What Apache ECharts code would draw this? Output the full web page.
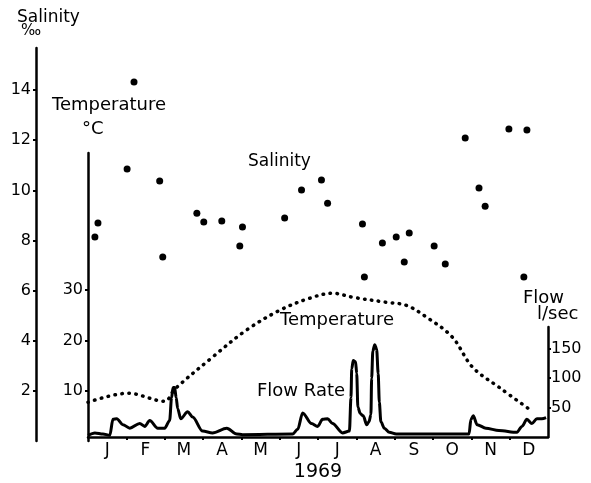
<!DOCTYPE html>
<html>
<head>
<meta charset="utf-8">
<script src="https://cdn.jsdelivr.net/npm/echarts@6/dist/echarts.min.js"></script>
<style>
  html, body { margin: 0; padding: 0; background: #fff; }
  #chart { width: 591px; height: 483px; }
</style>
</head>
<body>
<div id="chart"></div>
<script>
// month letters along the bottom axis (x runs 0..12 months)
const months = ["J", "F", "M", "A", "M", "J", "J", "A", "S", "O", "N", "D"];
const monthTicks = [1, 2, 3, 4, 5, 6, 7, 8, 9, 10, 11];
const monthLabelPos = [0.5, 1.5, 2.5, 3.5, 4.5, 5.5, 6.5, 7.5, 8.5, 9.5, 10.5, 11.5];

const salTicks = [2, 4, 6, 8, 10, 12, 14];
const tempTicks = [10, 20, 30];
const flowTicks = [50, 100, 150];

// salinity samples (per mille)
const salMonth = [0.18, 0.26, 1.02, 1.2, 1.87, 1.95, 2.84, 3.02, 3.49, 3.96, 4.03, 5.13, 5.57, 6.09, 6.25,
  7.16, 7.21, 7.68, 8.04, 8.25, 8.38, 9.03, 9.32, 9.84, 10.2, 10.36, 10.98, 11.37, 11.45];
const salValue = [8.14, 8.7, 10.85, 14.32, 10.37, 7.34, 9.09, 8.74, 8.78, 7.78, 8.54, 8.9, 10.01, 10.41, 9.49,
  8.66, 6.54, 7.9, 8.14, 7.14, 8.3, 7.78, 7.06, 12.09, 10.09, 9.37, 12.45, 6.54, 12.41];

// water temperature (deg C)
const tempMonth = [0, 1.04, 2.0, 2.26, 3.25, 4.14, 5.0, 5.78, 6.38, 6.9, 7.78, 8.3, 8.82, 9.5, 10.03, 10.72, 11.5];
const tempValue = [7.7, 9.5, 7.9, 10.3, 16.7, 22.1, 26.0, 28.4, 29.4, 28.6, 27.6, 27.0, 24.7, 20.7, 14.7, 10.7, 6.4];

// flow rate (l/sec)
const flowMonth = [0, 0.18, 0.39, 0.57, 0.65, 0.75, 0.91, 1.09, 1.35, 1.48, 1.61, 1.82, 2.0,
  2.13, 2.18, 2.22, 2.26, 2.3, 2.34, 2.42, 2.6, 2.73, 2.99, 3.25, 3.62, 3.88, 4.03,
  5.34, 5.47, 5.6, 5.83, 5.99, 6.12, 6.25, 6.38, 6.64, 6.82,
  6.86, 6.88, 6.92, 6.98, 7.01, 7.04, 7.1, 7.18, 7.27, 7.33,
  7.38, 7.4, 7.43, 7.48, 7.53, 7.57, 7.6, 7.64, 7.73, 7.86, 8.04,
  9.94, 9.99, 10.05, 10.15, 10.38, 10.72, 11.19, 11.32, 11.45, 11.58, 11.71, 11.84, 11.95];
const flowRate = [3, 7, 5, 3, 30, 31, 21, 15, 23, 18, 28, 15, 15,
  28, 67, 84, 84, 67, 48, 31, 43, 34, 10, 7, 15, 5, 4,
  5, 13, 41, 23, 18, 30, 31, 23, 7, 10,
  67, 116, 130, 128, 108, 51, 40, 36, 21, 26,
  38, 100, 146, 157, 149, 108, 59, 26, 15, 8, 5,
  5, 30, 36, 21, 15, 11, 8, 18, 30, 23, 31, 31, 33];

const FONT = "DejaVu Sans";
const INK = "#000";

function pairs(xs, ys) {
  return xs.map((x, i) => [x, ys[i]]);
}

const chart = echarts.init(document.getElementById("chart"), null, { renderer: "canvas" });

const gridBase = { left: 88, right: 43, bottom: 42 };

function hiddenX(gridIndex) {
  return {
    gridIndex, type: "value", min: 0, max: 12, show: false,
    splitLine: { show: false },
  };
}

function yAxis(gridIndex, max, ticks, extra) {
  return Object.assign({
    gridIndex, type: "value", min: 0, max,
    axisLine: { show: true, onZero: false, lineStyle: { color: INK, width: 2.5 } },
    axisTick: { show: true, customValues: ticks, length: 3, lineStyle: { color: INK, width: 2 } },
    axisLabel: { customValues: ticks, color: INK, fontSize: 16, fontFamily: FONT, margin: 5 },
    splitLine: { show: false },
  }, extra);
}

chart.setOption({
  animation: false,
  backgroundColor: "#fff",
  grid: [
    Object.assign({ top: 48 }, gridBase),
    Object.assign({ top: 153 }, gridBase),
    Object.assign({ top: 327 }, gridBase),
  ],
  xAxis: [
    hiddenX(0),
    hiddenX(1),
    {
      gridIndex: 2, type: "value", min: 0, max: 12,
      axisLine: { show: true, onZero: false, lineStyle: { color: INK, width: 2.5 } },
      axisTick: { show: true, customValues: monthTicks, length: 3, lineStyle: { color: INK, width: 2 } },
      axisLabel: {
        customValues: monthLabelPos, color: INK, fontSize: 17, fontFamily: FONT, margin: 5,
        formatter: (v) => months[Math.floor(v)],
      },
      splitLine: { show: false },
      name: "1969", nameLocation: "middle", nameGap: 26,
      nameTextStyle: { color: INK, fontSize: 19, fontFamily: FONT },
    },
  ],
  yAxis: [
    yAxis(0, 15.68, salTicks, { position: "left", offset: 52 }),
    yAxis(1, 57.3, tempTicks, { position: "left" }),
    yAxis(2, 187, flowTicks, { position: "right", axisLabel: { customValues: flowTicks, color: INK, fontSize: 16, fontFamily: FONT, margin: 3 } }),
  ],
  graphic: [
    { type: "text", style: { text: "Salinity", x: 17, y: 18, font: "17px " + FONT, fill: INK, textVerticalAlign: "middle" } },
    { type: "text", style: { text: "‰", x: 21, y: 31, font: "15px " + FONT, fill: INK, textVerticalAlign: "middle" } },
    { type: "text", style: { text: "Temperature", x: 52, y: 105, font: "18px " + FONT, fill: INK, textVerticalAlign: "middle" } },
    { type: "text", style: { text: "°C", x: 82, y: 129, font: "18px " + FONT, fill: INK, textVerticalAlign: "middle" } },
    { type: "text", style: { text: "Salinity", x: 248, y: 162, font: "17px " + FONT, fill: INK, textVerticalAlign: "middle" } },
    { type: "text", style: { text: "Temperature", x: 280, y: 320, font: "18px " + FONT, fill: INK, textVerticalAlign: "middle" } },
    { type: "text", style: { text: "Flow Rate", x: 257, y: 391, font: "18px " + FONT, fill: INK, textVerticalAlign: "middle" } },
    { type: "text", style: { text: "Flow", x: 523, y: 298, font: "18px " + FONT, fill: INK, textVerticalAlign: "middle" } },
    { type: "text", style: { text: "l/sec", x: 537, y: 314, font: "18px " + FONT, fill: INK, textVerticalAlign: "middle" } },
  ],
  series: [
    {
      name: "Salinity", type: "scatter", xAxisIndex: 0, yAxisIndex: 0,
      symbolSize: 7, itemStyle: { color: INK, opacity: 1 },
      data: pairs(salMonth, salValue),
    },
    {
      name: "Temperature", type: "line", xAxisIndex: 1, yAxisIndex: 1,
      smooth: 0.35, showSymbol: false,
      lineStyle: { color: INK, width: 3.5, type: [0.5, 6.5], cap: "round" },
      data: pairs(tempMonth, tempValue),
    },
    {
      name: "Flow Rate", type: "line", xAxisIndex: 2, yAxisIndex: 2,
      smooth: 0.3, smoothMonotone: "x", showSymbol: false,
      lineStyle: { color: INK, width: 3, join: "round" },
      data: pairs(flowMonth, flowRate),
    },
  ],
});
</script>
</body>
</html>
